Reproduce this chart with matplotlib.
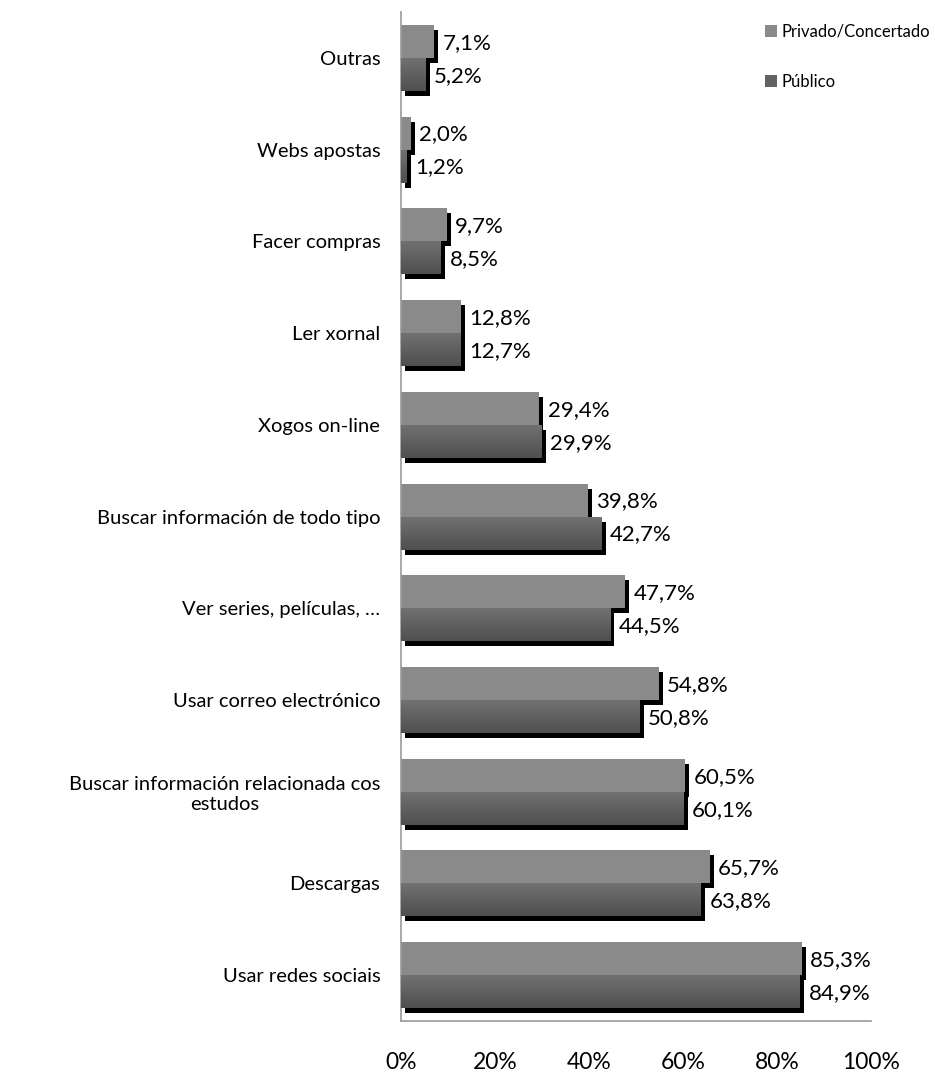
import matplotlib.pyplot as plt
import matplotlib.transforms as mtransforms
from matplotlib.colors import LinearSegmentedColormap
import numpy as np

# data
categories = ["Outras", "Webs apostas", "Facer compras", "Ler xornal", "Xogos on-line",
              "Buscar información de todo tipo", "Ver series, películas, …",
              "Usar correo electrónico", "Buscar información relacionada cos\nestudos",
              "Descargas", "Usar redes sociais"]
privado = [7.1, 2.0, 9.7, 12.8, 29.4, 39.8, 47.7, 54.8, 60.5, 65.7, 85.3]
publico = [5.2, 1.2, 8.5, 12.7, 29.9, 42.7, 44.5, 50.8, 60.1, 63.8, 84.9]
series_names = ["Privado/Concertado", "Público"]
xticks = [0, 20, 40, 60, 80, 100]

plt.rcParams['font.family'] = ['Lato', 'DejaVu Sans']

fig = plt.figure(figsize=(9.35, 10.75), dpi=100)
ax = fig.add_axes([0.429, 0.0502, 0.5026, 0.9386])

y = np.arange(len(categories))
h = 0.36
light = "#8a8a8a"
dark_cmap = LinearSegmentedColormap.from_list("dk", ["#727272", "#4f4f4f"])

# shadow offset (right, down)
shadow = ax.transData + mtransforms.ScaledTranslation(4 / 100, -5 / 100, fig.dpi_scale_trans)

ax.barh(y - h / 2, privado, height=h, color="black", transform=shadow, zorder=1)
ax.barh(y + h / 2, publico, height=h, color="black", transform=shadow, zorder=1)

b1 = ax.barh(y - h / 2, privado, height=h, color=light, label=series_names[0], zorder=2)
b2 = ax.barh(y + h / 2, publico, height=h, color="#626262", label=series_names[1], zorder=2)

# vertical gradient on the dark bars
grad = np.linspace(0, 1, 64).reshape(-1, 1)
for rect in b2.patches:
    x0, y0 = rect.get_x(), rect.get_y()
    im = ax.imshow(grad, cmap=dark_cmap, extent=(x0, x0 + rect.get_width(), y0 + h, y0),
                   aspect='auto', zorder=3, interpolation='bilinear')
    im.set_clip_path(rect)

def fmt(v):
    return f"{v:.1f}%".replace(".", ",")

for i in range(len(categories)):
    ax.annotate(fmt(privado[i]), (privado[i], y[i] - h / 2), xytext=(6, -1),
                textcoords="offset points", va="center", ha="left", fontsize=16)
    ax.annotate(fmt(publico[i]), (publico[i], y[i] + h / 2), xytext=(6, -1),
                textcoords="offset points", va="center", ha="left", fontsize=16)

ax.set_xlim(0, 100)
ax.set_ylim(len(categories) - 0.5, -0.5)
ax.set_yticks(y)
ax.set_yticklabels(categories, fontsize=14.5, multialignment="center")
ax.set_xticks(xticks)
ax.set_xticklabels([f"{t}%" for t in xticks], fontsize=16.5)
ax.tick_params(axis="y", length=0, pad=15)
ax.tick_params(axis="x", length=0, pad=22)

for s in ["top", "right"]:
    ax.spines[s].set_visible(False)
for s in ["left", "bottom"]:
    ax.spines[s].set_color("#999999")
    ax.spines[s].set_linewidth(1.2)

fig.legend(handles=[b1, b2], loc="upper left", bbox_to_anchor=(0.818, 0.978),
           frameon=False, fontsize=12, handlelength=0.75, handleheight=0.75,
           handletextpad=0.25, labelspacing=2.05, borderaxespad=0, borderpad=0)

fig.savefig("out.png", dpi=100)
